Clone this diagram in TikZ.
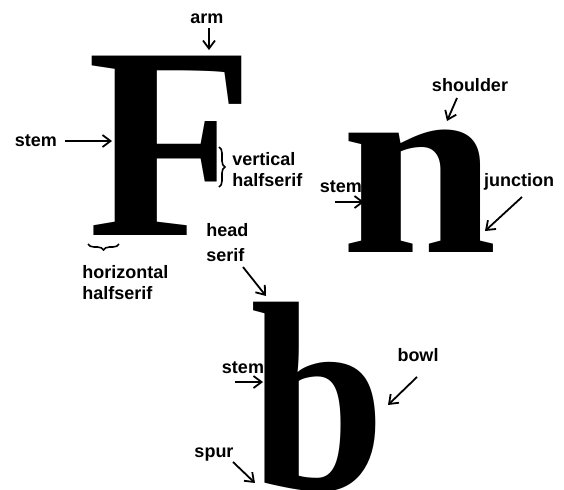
\documentclass[tikz,border=0pt]{standalone}
\usepackage{fontspec}
\setmainfont{Liberation Serif}
\setsansfont{Liberation Sans}
\usetikzlibrary{arrows.meta,decorations.pathreplacing}

\begin{document}
\begin{tikzpicture}[x=0.5pt,y=-0.5pt,
  glyph/.style={anchor=base west, inner sep=0pt, font=\bfseries\fontsize{#1}{#1}\selectfont},
  lbl/.style={inner sep=1pt, align=left, font=\sffamily\bfseries\fontsize{9}{10.5}\selectfont},
  arr/.style={-{Straight Barb[length=4pt,width=6pt]}, line width=0.9pt},
  brc/.style={decorate, decoration={brace, amplitude=3pt}, line width=0.8pt}]
\useasboundingbox (0,0) rectangle (564,489);
\clip (0,0) rectangle (564,489);

% Letters
\node[glyph=137] (bigF) at (87,235) {F};
\node[glyph=130] (bign) at (341,252) {\scalebox{1.08}[1]{n}};
\node[glyph=135] (bigb) at (250,489) {\scalebox{0.9}[1]{b}};

% Labels
\node[lbl] (arm) at (207,19) {arm};
\node[lbl] (stemF) at (36,141) {stem};
\node[lbl, anchor=west] (vert) at (230,170) {vertical\\halfserif};
\node[lbl, anchor=west] (horiz) at (80,283) {horizontal\\halfserif};
\node[lbl, anchor=west] (head) at (204,243) {head\\[2pt]serif};
\node[lbl] (shoulder) at (470,85) {shoulder};
\node[lbl] (stemN) at (341,187) {stem};
\node[lbl] (junction) at (519,182) {junction};
\node[lbl] (stemB) at (243,368) {stem};
\node[lbl] (bowl) at (418,355) {bowl};
\node[lbl] (spur) at (214,455) {spur};

% Arrow ends
\coordinate (armTail) at (209,28);   \coordinate (armTip) at (209,50);
\coordinate (stemFTail) at (65,141); \coordinate (stemFTip) at (112,141);
\coordinate (shoulderTail) at (457,98); \coordinate (shoulderTip) at (447,121);
\coordinate (stemNTail) at (335,202); \coordinate (stemNTip) at (364,202);
\coordinate (junctionTail) at (522,197); \coordinate (junctionTip) at (485,231);
\coordinate (headTail) at (243,267); \coordinate (headTip) at (266,296);
\coordinate (stemBTail) at (235,382); \coordinate (stemBTip) at (263,382);
\coordinate (bowlTail) at (417,377); \coordinate (bowlTip) at (388,405);
\coordinate (spurTail) at (233,462); \coordinate (spurTip) at (255,483);

% Arrows
\draw[arr] (armTail) -- (armTip);
\draw[arr] (stemFTail) -- (stemFTip);
\draw[arr] (shoulderTail) -- (shoulderTip);
\draw[arr] (stemNTail) -- (stemNTip);
\draw[arr] (junctionTail) -- (junctionTip);
\draw[arr] (headTail) -- (headTip);
\draw[arr] (stemBTail) -- (stemBTip);
\draw[arr] (bowlTail) -- (bowlTip);
\draw[arr] (spurTail) -- (spurTip);

% Braces
\coordinate (vTop) at (219,147);
\coordinate (vBot) at (219,187);
\draw[brc] (vTop) -- (vBot);
\coordinate (hLeft) at (88,244);
\coordinate (hRight) at (119,244);
\draw[brc] (hRight) -- (hLeft);
\end{tikzpicture}
\end{document}
